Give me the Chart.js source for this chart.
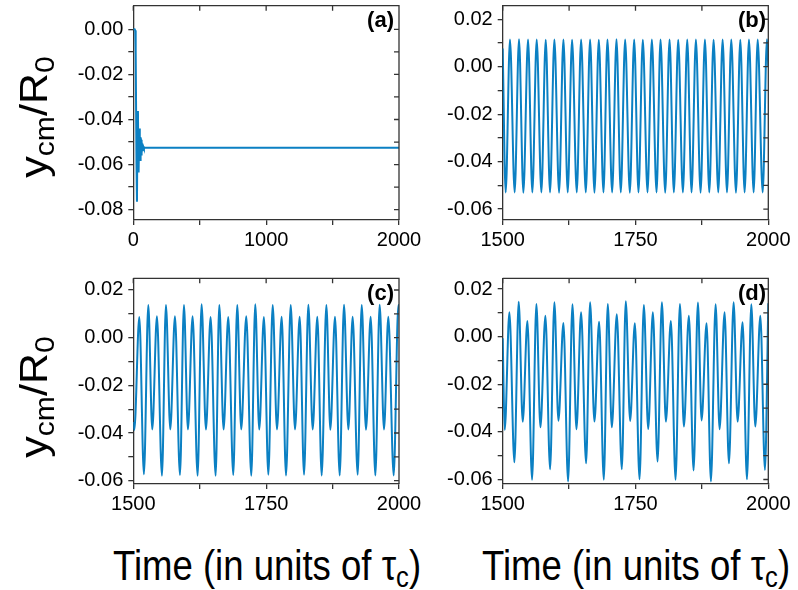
<!DOCTYPE html>
<html>
<head>
<meta charset="utf-8">
<script src="https://cdn.jsdelivr.net/npm/chart.js@4.4.1/dist/chart.umd.min.js"></script>
<style>
  body {
    margin: 0;
    width: 798px;
    height: 590px;
    background: #fff;
    position: relative;
    overflow: hidden;
    font-family: "Liberation Sans", Arial, sans-serif;
    color: #000;
  }
  canvas { position: absolute; }
  .ylab {
    position: absolute;
    font-size: 43px;
    white-space: nowrap;
    line-height: 1;
    transform: translate(-50%, -50%) rotate(-90deg) scaleY(0.9);
  }
  .xlab {
    position: absolute;
    font-size: 42px;
    white-space: nowrap;
    line-height: 1;
    transform: translateX(-50%) scaleX(0.87);
  }
  .ylab sub, .xlab sub { font-size: 0.7em; vertical-align: -0.25em; line-height: 0; }
  .tag { position: absolute; font-weight: bold; font-size: 22px; line-height: 1; }
</style>
</head>
<body>
<canvas id="chartA" width="440" height="292" style="left:0px; top:-30px"></canvas>
<canvas id="chartB" width="358" height="292" style="left:440px; top:-30px"></canvas>
<canvas id="chartC" width="440" height="290" style="left:0px; top:250px"></canvas>
<canvas id="chartD" width="358" height="290" style="left:440px; top:250px"></canvas>

<div class="ylab" style="left:34px; top:117px">y<sub>cm</sub>/R<sub>0</sub></div>
<div class="ylab" style="left:34px; top:397px">y<sub>cm</sub>/R<sub>0</sub></div>
<div class="xlab" style="left:267px; top:545px">Time (in units of τ<sub>c</sub>)</div>
<div class="xlab" style="left:636px; top:545px">Time (in units of τ<sub>c</sub>)</div>
<div class="tag" style="right:404px; top:9px">(a)</div>
<div class="tag" style="right:32px; top:9px">(b)</div>
<div class="tag" style="right:404px; top:282px">(c)</div>
<div class="tag" style="right:32px; top:282px">(d)</div>

<script>
// panel (a): transient, then steady
const timeA = [0, 10, 15, 18, 24, 27.6, 31, 35, 38, 40, 44, 47.6, 50, 52.6, 55, 58, 61, 64, 67, 70, 75, 80, 90, 2000];
const ycmA = [0, 0, -0.0005, -0.01, -0.06, -0.0765, -0.045, -0.0362, -0.058, -0.0635, -0.046, -0.044, -0.056, -0.058, -0.048, -0.049, -0.056, -0.055, -0.051, -0.054, -0.052, -0.0528, -0.0525, -0.0525];

// panel (b): regular oscillation
const timeB = [1500, 1505.6, 1513.7, 1522.5, 1530.7, 1538.9, 1547.7, 1555.8, 1564, 1572.8, 1581,
  1589.1, 1597.3, 1606.1, 1614.3, 1622.4, 1630.6, 1639.4, 1647.6, 1656.4, 1664.5,
  1672.7, 1680.9, 1689.7, 1697.2, 1706, 1714.2, 1722.3, 1730.5, 1739.3, 1747.5,
  1755.6, 1763.8, 1772.6, 1780.8, 1789.6, 1797.1, 1805.9, 1814.1, 1822.2, 1830.4,
  1839.2, 1847.4, 1855.5, 1863.7, 1872.5, 1880.7, 1888.9, 1897, 1905.8, 1914,
  1922.2, 1930.3, 1939.1, 1947.3, 1955.4, 1963.6, 1972.4, 1980, 1989.4, 1997.5, 2000];
const ycmB = [0.0077, -0.053, 0.0115, -0.053, 0.0116, -0.0531, 0.0115, -0.053, 0.0115, -0.053, 0.0114,
  -0.053, 0.0115, -0.0531, 0.0115, -0.053, 0.0114, -0.053, 0.0115, -0.053, 0.0115,
  -0.0531, 0.0114, -0.053, 0.0115, -0.053, 0.0116, -0.053, 0.0115, -0.0531, 0.0115,
  -0.053, 0.0114, -0.053, 0.0115, -0.053, 0.0115, -0.0531, 0.0115, -0.053, 0.0114,
  -0.053, 0.0115, -0.053, 0.0115, -0.0531, 0.0115, -0.053, 0.0114, -0.053, 0.0115,
  -0.053, 0.0115, -0.0531, 0.0114, -0.053, 0.0115, -0.053, 0.0115, -0.053, 0.0116, 0.0];

// panel (c): period-two oscillation
const timeC = [1500, 1501.9, 1511.3, 1520, 1528.2, 1535.7, 1544.5, 1553.9, 1561.4, 1569.6, 1578.4,
  1587.8, 1595.3, 1602.8, 1611.6, 1621, 1628.5, 1636.7, 1645.5, 1654.9, 1661.8,
  1669.9, 1678.7, 1688.1, 1695.6, 1703.1, 1712.6, 1722, 1729.5, 1737, 1745.8,
  1754.1, 1762.3, 1770.4, 1779.2, 1787.4, 1796.2, 1804.3, 1813.1, 1821.3, 1829.4,
  1837.6, 1846.3, 1854.5, 1863.3, 1870.8, 1879.6, 1888.4, 1896.5, 1904.7, 1912.8,
  1922.2, 1929.8, 1937.9, 1946.7, 1955.5, 1963.6, 1971.8, 1979.9, 1990, 1998.8, 2000];
const ycmC = [-0.0354, -0.0387, 0.0087, -0.0573, 0.0137, -0.0385, 0.009, -0.0579, 0.0137, -0.0385, 0.009,
  -0.0576, 0.0137, -0.0385, 0.009, -0.0579, 0.014, -0.0385, 0.0087, -0.0579, 0.0137,
  -0.0385, 0.0087, -0.0576, 0.0137, -0.0385, 0.009, -0.0579, 0.014, -0.0385, 0.0087,
  -0.0575, 0.0137, -0.0385, 0.0088, -0.0578, 0.0137, -0.0385, 0.0088, -0.0575, 0.0138,
  -0.0385, 0.0088, -0.0578, 0.0137, -0.0386, 0.0088, -0.0578, 0.0138, -0.0385, 0.0088,
  -0.0575, 0.0137, -0.0386, 0.0088, -0.0578, 0.0138, -0.0385, 0.0088, -0.0578, 0.0137, 0.013];

// panel (d): quasi-periodic oscillation
const timeD = [1500, 1503.8, 1512.6, 1522, 1530.1, 1537.7, 1546.5, 1555.3, 1563.4, 1571, 1580.4,
  1589.2, 1597.3, 1604.9, 1614.3, 1623.1, 1631.3, 1638.8, 1647.6, 1657, 1664.5,
  1672.7, 1681.5, 1690.3, 1697.8, 1705.4, 1714.8, 1724.2, 1731.7, 1739.9, 1748.8,
  1757.6, 1765.7, 1773.9, 1782.7, 1791.5, 1799.7, 1807.2, 1816.6, 1825.4, 1833.6,
  1841.1, 1850.5, 1859.3, 1867.5, 1874.4, 1883.8, 1892, 1900.8, 1908.3, 1917.7,
  1925.9, 1934.7, 1942.2, 1951.6, 1959.8, 1968, 1975.5, 1985, 1993.7, 2000];
const ycmD = [-0.0007, -0.0392, 0.0102, -0.0528, 0.0147, -0.0357, 0.0066, -0.0601, 0.0137, -0.0381, 0.0088,
  -0.0557, 0.0144, -0.0353, 0.0057, -0.0608, 0.0136, -0.0389, 0.0102, -0.0532, 0.0144,
  -0.0357, 0.0063, -0.0601, 0.0137, -0.0381, 0.0094, -0.0557, 0.0149, -0.0354, 0.0056,
  -0.0599, 0.0133, -0.0388, 0.0102, -0.0525, 0.0144, -0.0357, 0.0066, -0.0601, 0.0137,
  -0.0378, 0.0088, -0.0562, 0.0143, -0.0352, 0.0056, -0.0608, 0.0136, -0.0389, 0.0102,
  -0.0532, 0.0144, -0.0357, 0.006, -0.0599, 0.0136, -0.0378, 0.0088, -0.056, 0.014];

// ticks
const xTicksA = [0, 500, 1000, 1500, 2000];
const xLabelsA = ["0", "", "1000", "", "2000"];
const xTicksB = [1500, 1625, 1750, 1875, 2000];
const xLabelsB = ["1500", "", "1750", "", "2000"];
const yTicksA = [0, -0.01, -0.02, -0.03, -0.04, -0.05, -0.06, -0.07, -0.08];
const yLabelsA = ["0.00", "", "-0.02", "", "-0.04", "", "-0.06", "", "-0.08"];
const yTicksB = [0.02, 0.01, 0, -0.01, -0.02, -0.03, -0.04, -0.05, -0.06];
const yLabelsB = ["0.02", "", "0.00", "", "-0.02", "", "-0.04", "", "-0.06"];

const lineColor = "#0b80c3";
const frameColor = "#333";

Chart.defaults.font.family = '"Liberation Sans", Arial, sans-serif';

// top and right border with inward ticks
const framePlugin = {
  id: "frame",
  afterDraw(chart) {
    const { ctx, chartArea: a, scales } = chart;
    ctx.save();
    ctx.strokeStyle = frameColor;
    ctx.lineWidth = 1.3;
    ctx.beginPath();
    ctx.moveTo(a.left, a.top);
    ctx.lineTo(a.right, a.top);
    ctx.lineTo(a.right, a.bottom);
    scales.x.ticks.forEach((t) => {
      const px = scales.x.getPixelForValue(t.value);
      ctx.moveTo(px, a.top);
      ctx.lineTo(px, a.top + 5);
    });
    scales.y.ticks.forEach((t) => {
      const py = scales.y.getPixelForValue(t.value);
      ctx.moveTo(a.right, py);
      ctx.lineTo(a.right - 5, py);
    });
    ctx.stroke();
    ctx.restore();
  },
};

function makePanel(id, times, vals, cfg) {
  const ctx = document.getElementById(id).getContext("2d");
  return new Chart(ctx, {
    type: "line",
    data: {
      datasets: [
        {
          data: times.map((t, i) => ({ x: t, y: vals[i] })),
          borderColor: lineColor,
          borderWidth: 2,
          pointRadius: 0,
          fill: false,
          tension: 0,
          cubicInterpolationMode: cfg.smooth ? "monotone" : "default",
        },
      ],
    },
    options: {
      responsive: false,
      animation: false,
      events: [],
      layout: { padding: cfg.pad },
      plugins: { legend: { display: false }, tooltip: { enabled: false } },
      scales: {
        x: {
          type: "linear",
          min: cfg.xRange[0],
          max: cfg.xRange[1],
          afterBuildTicks: (axis) => {
            axis.ticks = cfg.xTicks.map((v) => ({ value: v }));
          },
          afterFit: (axis) => {
            axis.height = cfg.xH;
          },
          ticks: {
            callback: (v, i) => cfg.xLabels[i],
            font: { size: 20 },
            color: "#000",
            padding: 3,
            autoSkip: false,
            maxRotation: 0,
            minRotation: 0,
          },
          grid: { drawOnChartArea: false, tickLength: 5, color: frameColor, lineWidth: 1.3 },
          border: { color: frameColor, width: 1.3 },
        },
        y: {
          type: "linear",
          min: cfg.yRange[0],
          max: cfg.yRange[1],
          afterBuildTicks: (axis) => {
            axis.ticks = cfg.yTicks.map((v) => ({ value: v }));
          },
          afterFit: (axis) => {
            axis.width = cfg.yW;
          },
          ticks: {
            callback: (v, i) => cfg.yLabels[i],
            font: { size: 20 },
            color: "#000",
            padding: 5,
            autoSkip: false,
          },
          grid: { drawOnChartArea: false, tickLength: 5, color: frameColor, lineWidth: 1.3 },
          border: { color: frameColor, width: 1.3 },
        },
      },
    },
    plugins: [framePlugin],
  });
}

makePanel("chartA", timeA, ycmA, {
  smooth: false,
  pad: { top: 35.7, right: 41, bottom: 0, left: 0 },
  xRange: [0, 2000], yRange: [-0.0846, 0.0105],
  xTicks: xTicksA, xLabels: xLabelsA, yTicks: yTicksA, yLabels: yLabelsA,
  xH: 42, yW: 133.3,
});
makePanel("chartB", timeB, ycmB, {
  smooth: true,
  pad: { top: 35.7, right: 29.7, bottom: 0, left: 0 },
  xRange: [1500, 2000], yRange: [-0.0646, 0.0257],
  xTicks: xTicksB, xLabels: xLabelsB, yTicks: yTicksB, yLabels: yLabelsB,
  xH: 42, yW: 62.7,
});
makePanel("chartC", timeC, ycmC, {
  smooth: true,
  pad: { top: 28.3, right: 41, bottom: 0, left: 0 },
  xRange: [1500, 2000], yRange: [-0.0614, 0.0249],
  xTicks: xTicksB, xLabels: xLabelsB, yTicks: yTicksB, yLabels: yLabelsB,
  xH: 56, yW: 133.3,
});
makePanel("chartD", timeD, ycmD, {
  smooth: true,
  pad: { top: 28.3, right: 29.7, bottom: 0, left: 0 },
  xRange: [1500, 2000], yRange: [-0.0619, 0.0245],
  xTicks: xTicksB, xLabels: xLabelsB, yTicks: yTicksB, yLabels: yLabelsB,
  xH: 56, yW: 62.7,
});
</script>
</body>
</html>
